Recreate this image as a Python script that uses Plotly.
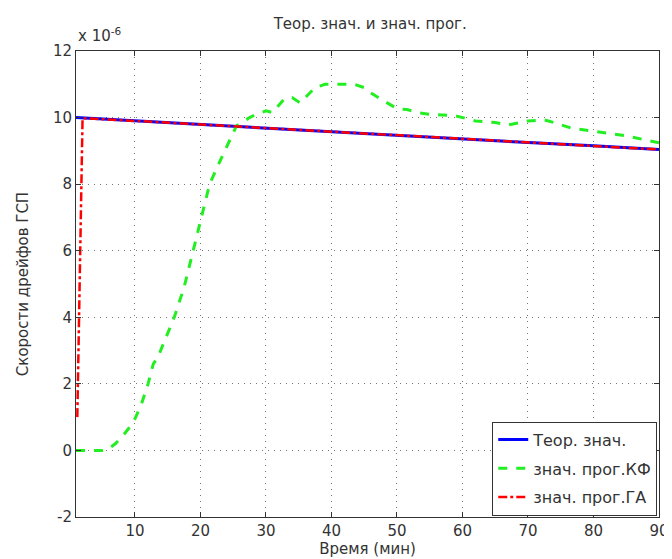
import plotly.graph_objects as go

# Values in units of 1e-6
t_theor = [1, 10, 20, 30, 40, 50, 60, 70, 80, 90]
v_theor = [10.0, 9.9, 9.79, 9.68, 9.57, 9.47, 9.36, 9.25, 9.15, 9.04]

t_ga = [1.2, 1.6, 2.0, 10, 20, 30, 40, 50, 60, 70, 80, 90]
v_ga = [1.0, 5.5, 9.98, 9.9, 9.79, 9.68, 9.57, 9.47, 9.36, 9.25, 9.15, 9.04]

t_kf = [1, 3, 5, 6, 7, 8, 9, 10, 11, 12, 12.8, 13.5, 15, 16, 17.5, 18.9, 20, 21.4, 23, 24.5, 25.5,
        27.5, 28.5, 30, 31, 32.7, 34, 35.2, 36.5, 37.5, 39, 41, 43.5, 45, 46, 48, 50, 51.5, 53.5,
        55, 57, 59, 62, 65, 67, 70, 72.5, 74, 76.5, 80, 85, 90]
v_kf = [0.0, 0.0, 0.0, 0.05, 0.2, 0.4, 0.65, 0.95, 1.4, 2.0, 2.6, 2.8, 3.5, 4.0, 4.9, 6.0, 6.9, 8.0, 8.7, 9.3, 9.75,
        10.0, 10.1, 10.2, 10.15, 10.54, 10.6, 10.44, 10.7, 10.9, 11.0, 11.0, 11.0, 10.9, 10.74, 10.5, 10.27, 10.24, 10.14,
        10.1, 10.08, 10.05, 9.9, 9.85, 9.78, 9.9, 9.93, 9.85, 9.69, 9.6, 9.45, 9.24]

x_ticks = [10, 20, 30, 40, 50, 60, 70, 80, 90]
y_ticks = [-2, 0, 2, 4, 6, 8, 10, 12]

font_family = "DejaVu Sans, Arial, sans-serif"
text_color = "#333333"

fig = go.Figure()
fig.add_trace(go.Scatter(x=t_theor, y=v_theor, mode="lines", name="Теор. знач.", legendgroup="a",
                         line=dict(color="#0000ff", width=3)))
fig.add_trace(go.Scatter(x=t_kf, y=v_kf, mode="lines", name="знач. прог.КФ", legendgroup="b",
                         line=dict(color="#22ee22", width=3, dash="dash")))
fig.add_trace(go.Scatter(x=t_ga, y=v_ga, mode="lines", name="знач. прог.ГА", legendgroup="c",
                         line=dict(color="#ff0000", width=2.5, dash="dashdot")))

axis_common = dict(
    showline=True, linecolor="#333333", linewidth=1, mirror="ticks",
    ticks="inside", ticklen=5, tickcolor="#333333",
    showgrid=True, gridcolor="#777777", griddash="1px,5px", gridwidth=1,
    zeroline=False,
    tickfont=dict(family=font_family, size=15, color=text_color),
)

fig.update_layout(
    width=672, height=559,
    margin=dict(l=68, r=11, t=43, b=50),
    paper_bgcolor="white", plot_bgcolor="white",
    font=dict(family=font_family, color=text_color),
    title=dict(text="Теор. знач. и знач. прог.", x=0.539, xanchor="center", y=0.972, yanchor="middle",
               font=dict(size=15, color=text_color)),
    xaxis=dict(range=[1, 90], tickvals=x_ticks, ticktext=[str(v) for v in x_ticks],
               title=dict(text="Время (мин)", font=dict(size=15, color=text_color), standoff=3),
               **axis_common),
    yaxis=dict(range=[-2, 12], tickvals=y_ticks, ticktext=[str(v) for v in y_ticks],
               title=dict(text="Скорости дрейфов ГСП", font=dict(size=15, color=text_color), standoff=20),
               **axis_common),
    legend=dict(x=0.997, y=0.003, xanchor="right", yanchor="bottom",
                bgcolor="white", bordercolor="#333333", borderwidth=1,
                font=dict(size=16, color=text_color), tracegroupgap=5),
    showlegend=True,
)

fig.add_annotation(text="x 10<sup>-6</sup>", xref="paper", yref="paper", x=0.0, y=1.0,
                   xanchor="left", yanchor="bottom", showarrow=False, yshift=4,
                   font=dict(size=15, color=text_color, family=font_family))

fig.write_html("out.html")
